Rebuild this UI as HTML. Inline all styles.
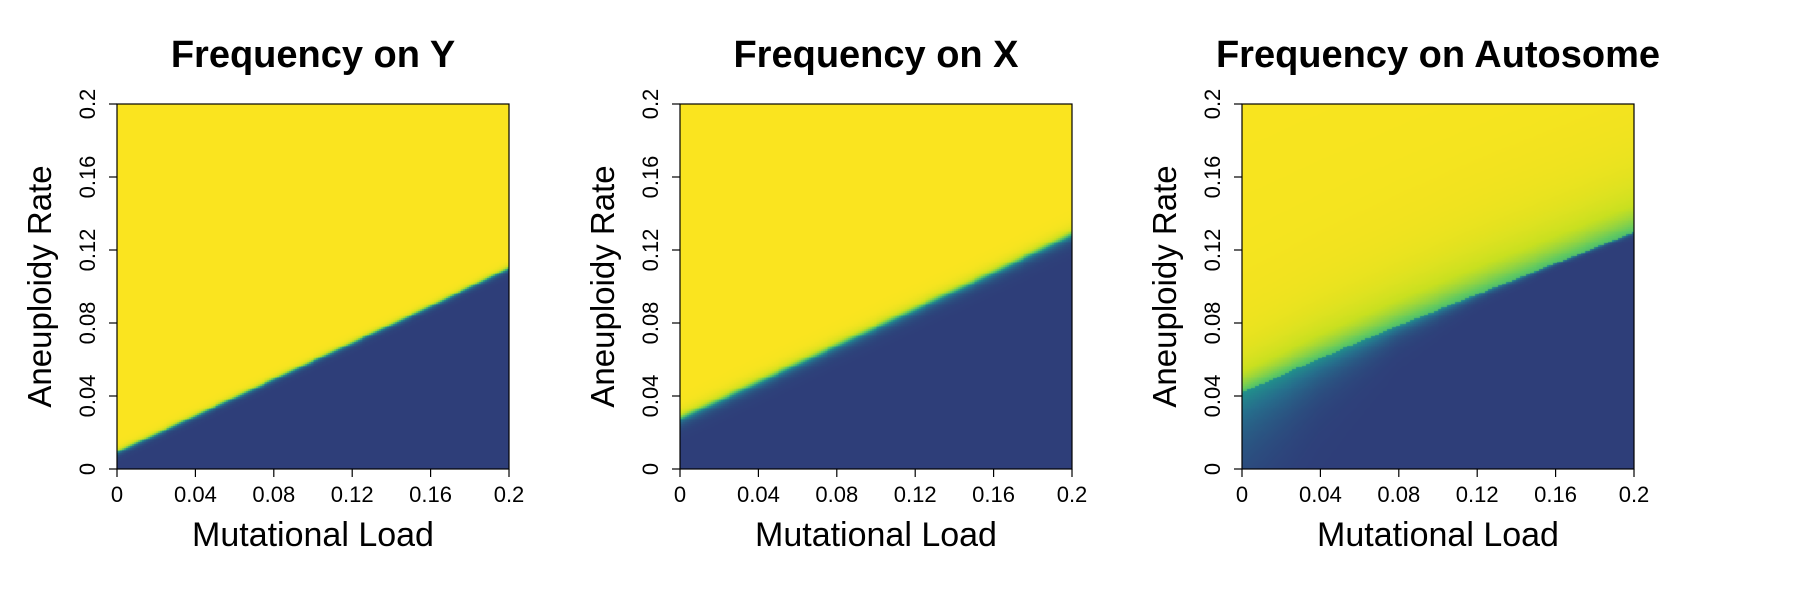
<!DOCTYPE html>
<html><head><meta charset="utf-8">
<style>
html,body{margin:0;padding:0;background:#fff;}
#root{position:relative;width:1800px;height:600px;overflow:hidden;background:#fff;font-family:"Liberation Sans",Arial,sans-serif;}
</style></head>
<body>
<div id="root">
<svg id="svg" width="1800" height="600" style="position:absolute;left:0;top:0"></svg>
</div>
<script>
// ---- data ----
const panelTitles = ["Frequency on Y", "Frequency on X", "Frequency on Autosome"];
const xTickLabels = ["0", "0.04", "0.08", "0.12", "0.16", "0.2"];
const yTickLabels = ["0", "0.04", "0.08", "0.12", "0.16", "0.2"];
const xTickValues = [0, 0.04, 0.08, 0.12, 0.16, 0.2];
// boundary aneuploidy rate (yellow/navy transition) at each xTickValue
const boundaryY = [0.009, 0.029, 0.049, 0.069, 0.089, 0.110];
const boundaryX = [0.027, 0.047, 0.067, 0.087, 0.107, 0.128];
const boundaryA = [0.042, 0.061, 0.079, 0.096, 0.113, 0.130];
// transition widths above / below the boundary at each xTickValue
const widthAboveY = [0.0012, 0.0012, 0.0012, 0.0012, 0.0012, 0.0012];
const widthBelowY = [0.0012, 0.0012, 0.0012, 0.0012, 0.0012, 0.0012];
const widthAboveX = [0.0025, 0.0025, 0.0025, 0.0025, 0.0025, 0.0025];
const widthBelowX = [0.0025, 0.0025, 0.0025, 0.0025, 0.0025, 0.0025];
const widthAboveA = [0.012, 0.014, 0.015, 0.016, 0.016, 0.016];
const widthBelowA = [0.025, 0.012, 0.005, 0.002, 0.001, 0.001];

const panels = [
  {title: panelTitles[0], b: boundaryY, wa: widthAboveY, wb: widthBelowY, left: 117},
  {title: panelTitles[1], b: boundaryX, wa: widthAboveX, wb: widthBelowX, left: 680},
  {title: panelTitles[2], b: boundaryA, wa: widthAboveA, wb: widthBelowA, left: 1242}
];
const PW = 392, TOP = 104, BOT = 469, XMAX = 0.2, YMAX = 0.2;
const NS = "http://www.w3.org/2000/svg";
const svg = document.getElementById('svg');
const root = document.getElementById('root');

function interp(arr, x) {
  const t = x / XMAX * (arr.length - 1);
  const i = Math.min(arr.length - 2, Math.floor(t));
  const f = t - i;
  return arr[i] * (1 - f) + arr[i + 1] * f;
}
const cmap = [[0,[46,62,121]],[0.3,[38,110,140]],[0.5,[33,145,140]],[0.7,[94,201,98]],[0.85,[200,224,32]],[1,[250,228,31]]];
function color(v) {
  v = Math.max(0, Math.min(1, v));
  for (let i = 0; i < cmap.length - 1; i++) {
    const [a, ca] = cmap[i], [b, cb] = cmap[i + 1];
    if (v <= b) {
      const f = (v - a) / (b - a);
      return ca.map((c, k) => Math.round(c + (cb[k] - c) * f));
    }
  }
  return cmap[cmap.length - 1][1];
}
function mk(tag, attrs, parent) {
  const e = document.createElementNS(NS, tag);
  for (const k in attrs) e.setAttribute(k, attrs[k]);
  (parent || svg).appendChild(e);
  return e;
}

panels.forEach((p, pi) => {
  const L = p.left, R = L + PW;
  const sx = v => L + v / XMAX * (R - L);
  const sy = v => BOT - v / YMAX * (BOT - TOP);
  const cv = document.createElement('canvas');
  cv.width = R - L; cv.height = BOT - TOP;
  cv.style.cssText = `position:absolute;left:${L}px;top:${TOP}px;`;
  
  
  root.insertBefore(cv, svg);
  const ctx = cv.getContext('2d');
  const N = 200;
  for (let i = 0; i < N; i++) {
    const xv = (i + 0.5) / N * XMAX;
    const b = interp(p.b, xv), wa = interp(p.wa, xv), wb = interp(p.wb, xv);
    for (let j = 0; j < N; j++) {
      const yv = (j + 0.5) / N * YMAX;
      let v;
      if (pi === 2) {
        if (yv >= b) v = 1 - 0.3 * Math.exp(-(yv - b) / wa) - 0.04 * Math.exp(-(yv - b) / 0.08);
        else v = 0.5 * Math.exp(-(b - yv) / wb);
      } else {
        if (yv >= b) v = 1 - 0.5 * Math.exp(-(yv - b) / wa);
        else v = 0.5 * Math.exp(-(b - yv) / wb);
      }
      const c = color(v);
      ctx.fillStyle = `rgb(${c[0]},${c[1]},${c[2]})`;
      const x0 = sx(i / N * XMAX) - L, x1 = sx((i + 1) / N * XMAX) - L;
      const y0 = sy((j + 1) / N * YMAX) - TOP, y1 = sy(j / N * YMAX) - TOP;
      ctx.fillRect(Math.floor(x0), Math.floor(y0), Math.ceil(x1 - x0) + 1, Math.ceil(y1 - y0) + 1);
    }
  }
  const fr = mk('rect', {x: L, y: TOP, width: R - L, height: BOT - TOP, fill: 'none', stroke: '#000', 'stroke-width': 1.2});
  
  
  const t = mk('text', {x: (L + R) / 2, y: 67, 'text-anchor': 'middle', 'font-size': 38, 'font-weight': 'bold'});
  t.textContent = p.title;
  
  
  xTickValues.forEach((v, k) => {
    const x = sx(v);
    const tk = mk('line', {x1: x, x2: x, y1: BOT, y2: BOT + 8, stroke: '#000', 'stroke-width': 1.2});
    
    
    const lb = mk('text', {x: x, y: BOT + 33, 'text-anchor': 'middle', 'font-size': 22});
    lb.textContent = xTickLabels[k];
    
    
  });
  xTickValues.forEach((v, k) => {
    const y = sy(v);
    const tk = mk('line', {x1: L - 8, x2: L, y1: y, y2: y, stroke: '#000', 'stroke-width': 1.2});
    
    
    const lb = mk('text', {x: 0, y: 0, 'text-anchor': 'middle', 'font-size': 22, transform: `translate(${L - 22},${y}) rotate(-90)`});
    lb.textContent = yTickLabels[k];
    
    
  });
  const xt = mk('text', {x: (L + R) / 2, y: 546, 'text-anchor': 'middle', 'font-size': 34});
  xt.textContent = 'Mutational Load';
  
  
  const yt = mk('text', {x: 0, y: 0, 'text-anchor': 'middle', 'font-size': 33, transform: `translate(${L - 66},${(TOP + BOT) / 2}) rotate(-90)`});
  yt.textContent = 'Aneuploidy Rate';
  
  
});
</script>
</body></html>
